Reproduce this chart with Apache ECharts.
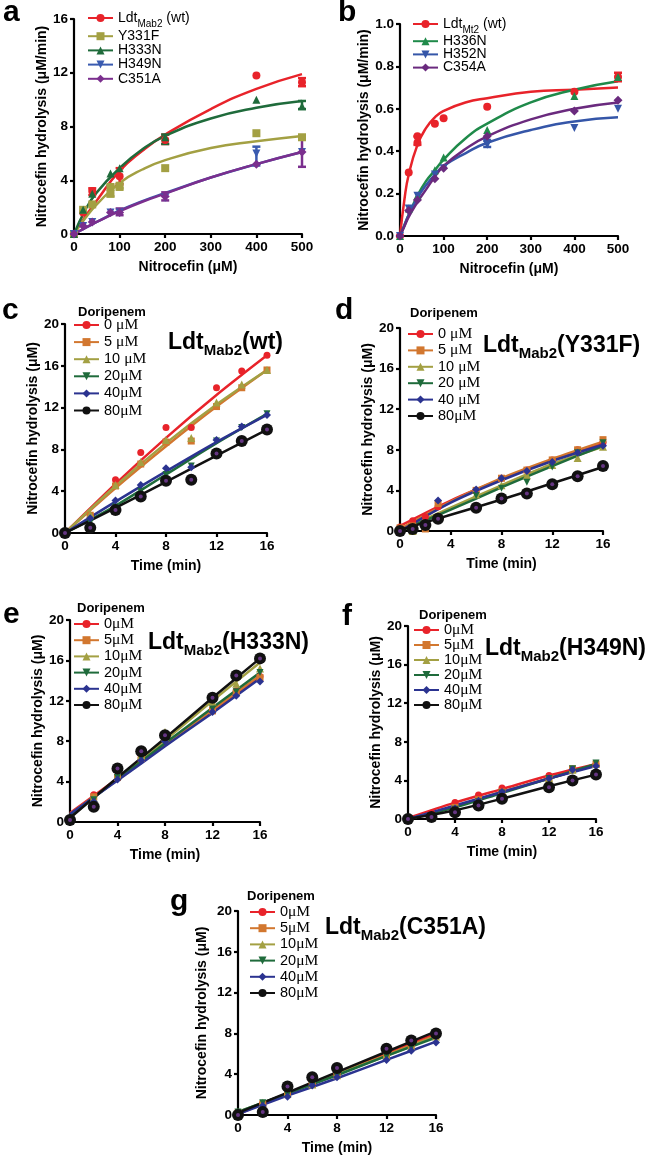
<!DOCTYPE html>
<html>
<head>
<meta charset="utf-8">
<script src="https://cdn.jsdelivr.net/npm/echarts@6/dist/echarts.min.js"></script>
<style>
  html,body{margin:0;padding:0;background:#fff;}
  #main{width:650px;height:1160px;}
</style>
</head>
<body>
<div id="main"></div>
<script>
// ---- panel a : Ldt_Mab2 and mutants, rate vs nitrocefin ----
var aFitX = [0, 25, 50, 100, 150, 200, 300, 400, 500];
var aWtPts = [[0,0],[20,1.6],[40,3.2],[100,4.3],[200,7.0],[400,11.8],[500,11.3]];
var aWtFit = [0, 1.3, 2.5, 4.7, 6.2, 7.4, 9.3, 10.8, 11.9];
var aY331FPts = [[0,0],[20,1.8],[40,2.2],[80,3.0],[80,3.5],[100,3.5],[200,4.9],[400,7.5],[500,7.2]];
var aY331FFit = [0, 1.2, 2.2, 3.8, 4.8, 5.5, 6.4, 6.9, 7.3];
var aH333NPts = [[0,0],[20,1.8],[40,3.0],[80,4.5],[100,4.9],[200,7.2],[400,10.0],[500,9.5]];
var aH333NFit = [0, 1.8, 3.1, 4.9, 6.3, 7.3, 8.6, 9.4, 9.9];
var aH349NPts = [[0,0],[20,0.6],[40,0.9],[80,1.6],[100,1.6],[200,2.7],[400,6.0],[500,6.1]];
var aH349NFit = [0, 0.45, 0.9, 1.75, 2.45, 3.05, 4.2, 5.2, 6.1];
var aC351APts = [[0,0],[20,0.6],[40,0.9],[80,1.6],[100,1.6],[200,2.8],[400,5.2],[500,6.1]];
var aC351AFit = [0, 0.45, 0.9, 1.7, 2.4, 3.0, 4.2, 5.2, 6.1];
// error bars [x, low, high]
var aWtErr = [[40,2.9,3.4],[100,3.7,4.9],[200,6.7,7.4],[500,11.0,11.6]];
var aY331FErr = [[80,2.8,3.6],[100,3.4,3.8]];
var aH333NErr = [[200,6.7,7.4],[500,9.3,9.9]];
var aH349NErr = [[400,5.1,6.5]];
var aC351AErr = [[100,1.4,1.9],[200,2.5,3.1],[500,5.0,7.2]];

// ---- panel b : Ldt_Mt2 and mutants ----
var bFitX = [0, 10, 20, 40, 60, 80, 100, 150, 200, 300, 400, 500];
var bWtPts = [[0,0],[20,0.30],[40,0.44],[40,0.47],[80,0.53],[100,0.555],[200,0.61],[400,0.68],[500,0.75]];
var bWtFit = [0, 0.17, 0.29, 0.43, 0.51, 0.56, 0.59, 0.63, 0.65, 0.68, 0.69, 0.70];
var bH336NPts = [[0,0],[20,0.13],[40,0.19],[80,0.31],[100,0.37],[200,0.50],[400,0.66],[500,0.75]];
var bH336NFit = [0, 0.05, 0.10, 0.19, 0.26, 0.31, 0.36, 0.46, 0.53, 0.63, 0.69, 0.73];
var bH352NPts = [[0,0],[20,0.13],[40,0.19],[80,0.29],[100,0.32],[200,0.43],[200,0.44],[400,0.51],[500,0.60]];
var bH352NFit = [0, 0.05, 0.10, 0.18, 0.24, 0.29, 0.33, 0.39, 0.44, 0.50, 0.54, 0.56];
var bC354APts = [[0,0],[20,0.12],[40,0.17],[80,0.27],[100,0.32],[200,0.47],[400,0.59],[500,0.64]];
var bC354AFit = [0, 0.045, 0.09, 0.16, 0.22, 0.28, 0.33, 0.41, 0.47, 0.55, 0.60, 0.63];
var bWtErr = [[40,0.43,0.47],[500,0.73,0.77]];
var bH352NErr = [[200,0.42,0.45]];

// ---- panels c-g : time courses with doripenem ----
var fitT = [0, 4, 8, 12, 16];

var cT = [0, 2, 4, 6, 8, 10, 12, 14, 16];
var c0 = [0, 1.7, 5.1, 7.7, 10.1, 10.1, 13.9, 15.5, 17.0];
var c5 = [0, 1.7, 4.5, 6.6, 8.7, 8.8, 12.1, 13.9, 15.6];
var c10 = [0, 1.8, 4.6, 6.8, 8.9, 9.1, 12.5, 14.2, 15.6];
var c20 = [0, 1.0, 2.5, 4.0, 5.6, 6.4, 8.8, 10.1, 11.4];
var c40 = [0, 1.4, 3.1, 4.6, 6.2, 6.3, 8.9, 10.2, 11.3];
var c80 = [0, 0.5, 2.2, 3.5, 5.0, 5.1, 7.6, 8.8, 9.9];
var c0Fit = [0, 4.7, 9.1, 13.2, 17.0];
var c5Fit = [0, 4.3, 8.3, 12.1, 15.6];
var c10Fit = [0, 4.5, 8.6, 12.3, 15.6];
var c20Fit = [0, 2.6, 5.6, 8.6, 11.4];
var c40Fit = [0, 3.0, 5.9, 8.7, 11.3];
var c80Fit = [0, 2.4, 4.9, 7.4, 9.9];

var dT = [0, 1, 2, 3, 6, 8, 10, 12, 14, 16];
var d0 = [0.4, 1.0, 1.4, 2.4, 4.0, 5.2, 6.0, 7.0, 8.0, 8.7];
var d5 = [0.3, 0.5, 0.2, 2.7, 4.0, 5.2, 6.0, 7.0, 8.0, 9.0];
var d10 = [0, 0, 0.5, 1.5, 3.6, 4.5, 5.5, 6.5, 7.2, 8.3];
var d20 = [0, 0, 0.7, 1.3, 3.5, 4.2, 4.8, 6.3, 7.7, 8.7];
var d40 = [0, -0.1, 0.6, 3.0, 4.1, 5.2, 5.9, 6.8, 7.7, 8.4];
var d80 = [0, 0.2, 0.6, 1.2, 2.3, 3.2, 3.7, 4.6, 5.4, 6.4];
var d0Fit = [0.5, 3.0, 5.1, 7.0, 8.7];
var d5Fit = [0.2, 2.9, 5.2, 7.1, 8.8];
var d10Fit = [0, 2.3, 4.5, 6.6, 8.3];
var d20Fit = [0, 2.1, 4.3, 6.4, 8.4];
var d40Fit = [0, 2.8, 5.0, 6.9, 8.5];
var d80Fit = [0.1, 1.6, 3.1, 4.7, 6.3];

var eT = [0, 2, 4, 6, 8, 12, 14, 16];
var e0 = [0.3, 2.7, 4.5, 6.4, 8.4, 11.2, 13.0, 14.4];
var e5 = [0.3, 2.5, 4.4, 6.3, 8.3, 11.0, 12.8, 14.3];
var e10 = [0.3, 2.4, 4.6, 6.6, 8.9, 11.9, 13.7, 15.2];
var e20 = [0.3, 2.2, 4.4, 6.3, 8.3, 11.2, 12.9, 14.8];
var e40 = [0.3, 2.0, 4.2, 6.1, 8.0, 10.9, 12.5, 13.9];
var e80 = [0.2, 1.5, 5.3, 7.0, 8.6, 12.3, 14.5, 16.2];
var e0Fit = [0.9, 4.3, 7.6, 11.0, 14.4];
var e5Fit = [0.8, 4.2, 7.6, 11.1, 14.5];
var e10Fit = [0.5, 4.3, 8.1, 12.0, 15.8];
var e20Fit = [0.7, 4.2, 7.8, 11.3, 14.8];
var e40Fit = [0.8, 4.1, 7.5, 10.8, 14.2];
var e80Fit = [0.4, 4.4, 8.3, 12.3, 16.2];

var fT = [0, 2, 4, 6, 8, 12, 14, 16];
var f0 = [0, 0.6, 1.7, 2.5, 3.2, 4.5, 5.1, 5.6];
var f5 = [0, 0.3, 1.2, 2.0, 2.8, 4.2, 5.2, 5.7];
var f10 = [0, 0.3, 1.1, 1.9, 2.7, 4.2, 5.1, 5.7];
var f20 = [0, 0.2, 1.0, 1.8, 2.7, 4.2, 5.2, 5.8];
var f40 = [0, 0.3, 1.1, 1.9, 2.8, 4.2, 5.1, 5.5];
var f80 = [0, 0.2, 0.7, 1.4, 2.1, 3.3, 4.0, 4.6];
var f0Fit = [0.1, 1.7, 3.1, 4.5, 5.7];
var f5Fit = [0, 1.3, 2.8, 4.2, 5.6];
var f10Fit = [0, 1.3, 2.8, 4.2, 5.6];
var f20Fit = [0, 1.2, 2.7, 4.2, 5.7];
var f40Fit = [0, 1.4, 2.8, 4.2, 5.5];
var f80Fit = [0, 0.9, 2.1, 3.4, 4.6];

var gT = [0, 2, 4, 6, 8, 12, 14, 16];
var g0 = [0.1, 1.1, 2.1, 3.1, 4.1, 6.0, 7.0, 8.0];
var g5 = [0.2, 1.1, 2.0, 3.0, 3.9, 5.9, 6.8, 7.8];
var g10 = [0.3, 1.2, 2.1, 3.0, 3.9, 5.8, 6.7, 7.7];
var g20 = [0.3, 1.2, 2.0, 2.9, 3.8, 5.7, 6.6, 7.6];
var g40 = [0.1, 0.9, 1.8, 2.9, 3.7, 5.4, 6.3, 7.1];
var g80 = [0, 0.3, 2.8, 3.7, 4.6, 6.5, 7.3, 8.0];
var g0Fit = [0.1, 2.1, 4.1, 6.0, 8.0];
var g5Fit = [0.2, 2.1, 4.0, 5.9, 7.8];
var g10Fit = [0.3, 2.1, 4.0, 5.8, 7.7];
var g20Fit = [0.3, 2.1, 3.9, 5.8, 7.6];
var g40Fit = [0.1, 1.9, 3.6, 5.4, 7.2];
var g80Fit = [0.2, 2.2, 4.2, 6.2, 8.2];

var doseLabels = ['0', '5', '10', '20', '40', '80'];

// ---- styles ----
var FONT = 'Liberation Sans';
var SERIF = 'Liberation Serif';
var RED = '#e8232a', OLIVE = '#a3a043', DKGREEN = '#1f6b3b', BLUE = '#3a5bb0', PURPLE = '#7b2f8e';
var GREEN_B = '#1f8a4a', BLUE_B = '#3556a8', PURPLE_B = '#6a2a7e';
var ORANGE = '#d2772f', NAVY = '#2b3390', BLACK = '#111111';
var INV_TRI = 'path://M0,0 L10,0 L5,9 Z';
var doseColors = [RED, ORANGE, OLIVE, DKGREEN, NAVY, BLACK];
var doseSymbols = ['circle', 'rect', 'triangle', INV_TRI, 'diamond', 'circle'];
var doseSizes = [7, 7, 8, 7, 8, 12];

// grid boxes [left, top, width, height]
var boxes = {
  a: [74, 19, 228, 215],
  b: [400, 24, 218, 212],
  c: [65, 324, 202, 209],
  d: [400, 328, 203, 203],
  e: [70, 620, 190, 202],
  f: [408, 626, 188, 193],
  g: [238, 911, 198, 204]
};
var order = ['a', 'b', 'c', 'd', 'e', 'f', 'g'];

function zip(xs, ys) {
  var out = [];
  for (var i = 0; i < xs.length; i++) out.push([xs[i], ys[i]]);
  return out;
}

function axisBase() {
  return {
    type: 'value',
    axisLine: {show: true, onZero: false, lineStyle: {color: '#000', width: 2.2}},
    axisTick: {show: true, length: 4, lineStyle: {color: '#000', width: 2.2}},
    splitLine: {show: false},
    axisLabel: {color: '#000', fontWeight: 'bold', fontSize: 13.5, fontFamily: FONT, margin: 6},
    nameTextStyle: {color: '#000', fontWeight: 'bold', fontSize: 14, fontFamily: FONT},
    nameLocation: 'middle'
  };
}

var grids = [], xAxes = [], yAxes = [], series = [], legends = [], titles = [];

order.forEach(function (k, i) {
  var b = boxes[k];
  grids.push({left: b[0], top: b[1], width: b[2], height: b[3]});
  var xa = axisBase(), ya = axisBase();
  xa.gridIndex = i; ya.gridIndex = i;
  if (k == 'a' || k == 'b') {
    xa.min = 0; xa.max = 500; xa.interval = 100; xa.name = 'Nitrocefin (μM)';
  } else {
    xa.min = 0; xa.max = 16; xa.interval = 4; xa.name = 'Time (min)';
  }
  xa.nameGap = 26;
  if (k == 'a') {
    ya.min = 0; ya.max = 16; ya.interval = 4; ya.name = 'Nitrocefin hydrolysis (μM/min)'; ya.nameGap = 21;
  } else if (k == 'b') {
    ya.min = 0; ya.max = 1; ya.interval = 0.2; ya.name = 'Nitrocefin hydrolysis (μM/min)'; ya.nameGap = 27;
    ya.axisLabel.formatter = function (v) { return v.toFixed(1); };
  } else {
    ya.min = 0; ya.max = 20; ya.interval = 4; ya.name = 'Nitrocefin hydrolysis (μM)';
    ya.nameGap = {c: 22, d: 25, e: 22, f: 24, g: 29}[k];
  }
  xAxes.push(xa); yAxes.push(ya);
});

function errRender(params, api) {
  var x = api.value(0);
  var p1 = api.coord([x, api.value(1)]);
  var p2 = api.coord([x, api.value(2)]);
  var st = {stroke: api.visual('color'), lineWidth: 2.5};
  return {
    type: 'group',
    children: [
      {type: 'line', shape: {x1: p1[0], y1: p1[1], x2: p2[0], y2: p2[1]}, style: st},
      {type: 'line', shape: {x1: p1[0] - 4, y1: p1[1], x2: p1[0] + 4, y2: p1[1]}, style: st},
      {type: 'line', shape: {x1: p2[0] - 4, y1: p2[1], x2: p2[0] + 4, y2: p2[1]}, style: st}
    ]
  };
}

// one dataset = fitted curve + points (+ error bars)
function addSet(gi, name, color, symbol, size, fit, pts, err, smooth) {
  series.push({
    type: 'line', name: name, xAxisIndex: gi, yAxisIndex: gi,
    data: fit, smooth: smooth, showSymbol: false, symbol: symbol, symbolSize: size,
    lineStyle: {color: color, width: 2.5}, itemStyle: {color: color},
    silent: true, z: 2, animation: false
  });
  if (err) {
    series.push({
      type: 'custom', name: name, xAxisIndex: gi, yAxisIndex: gi,
      data: err, renderItem: errRender, itemStyle: {color: color},
      encode: {x: 0, y: [1, 2]}, z: 3, animation: false, silent: true
    });
  }
  series.push({
    type: 'scatter', name: name, xAxisIndex: gi, yAxisIndex: gi,
    data: pts, symbol: symbol, symbolSize: size, itemStyle: {color: color, opacity: 1},
    z: 4, animation: false, silent: true
  });
}

// panel a
addSet(0, 'a:LdtMab2', RED, 'circle', 8, zip(aFitX, aWtFit), aWtPts, aWtErr, true);
addSet(0, 'a:Y331F', OLIVE, 'rect', 8, zip(aFitX, aY331FFit), aY331FPts, aY331FErr, true);
addSet(0, 'a:H333N', DKGREEN, 'triangle', 8, zip(aFitX, aH333NFit), aH333NPts, aH333NErr, true);
addSet(0, 'a:H349N', BLUE, INV_TRI, 8, zip(aFitX, aH349NFit), aH349NPts, aH349NErr, true);
addSet(0, 'a:C351A', PURPLE, 'diamond', 9, zip(aFitX, aC351AFit), aC351APts, aC351AErr, true);

// panel b
addSet(1, 'b:LdtMt2', RED, 'circle', 8, zip(bFitX, bWtFit), bWtPts, bWtErr, true);
addSet(1, 'b:H336N', GREEN_B, 'triangle', 8, zip(bFitX, bH336NFit), bH336NPts, null, true);
addSet(1, 'b:H352N', BLUE_B, INV_TRI, 8, zip(bFitX, bH352NFit), bH352NPts, bH352NErr, true);
addSet(1, 'b:C354A', PURPLE_B, 'diamond', 9, zip(bFitX, bC354AFit), bC354APts, null, true);

var timePanels = [
  {k: 'c', gi: 2, t: cT, pts: [c0, c5, c10, c20, c40, c80], fit: [c0Fit, c5Fit, c10Fit, c20Fit, c40Fit, c80Fit]},
  {k: 'd', gi: 3, t: dT, pts: [d0, d5, d10, d20, d40, d80], fit: [d0Fit, d5Fit, d10Fit, d20Fit, d40Fit, d80Fit]},
  {k: 'e', gi: 4, t: eT, pts: [e0, e5, e10, e20, e40, e80], fit: [e0Fit, e5Fit, e10Fit, e20Fit, e40Fit, e80Fit]},
  {k: 'f', gi: 5, t: fT, pts: [f0, f5, f10, f20, f40, f80], fit: [f0Fit, f5Fit, f10Fit, f20Fit, f40Fit, f80Fit]},
  {k: 'g', gi: 6, t: gT, pts: [g0, g5, g10, g20, g40, g80], fit: [g0Fit, g5Fit, g10Fit, g20Fit, g40Fit, g80Fit]}
];
// label spacing differs a bit between panels
var doseSpace = {
  c: [' ', ' ', ' ', '', '', ''],
  d: [' ', ' ', ' ', ' ', ' ', ''],
  e: ['', '', '', '', '', ''],
  f: ['', '', '', '', '', ''],
  g: ['', '', '', '', '', '']
};

timePanels.forEach(function (p) {
  for (var j = 0; j < 6; j++) {
    var nm = p.k + ':' + doseLabels[j] + doseSpace[p.k][j] + 'μM';
    addSet(p.gi, nm, doseColors[j], doseSymbols[j], doseSizes[j],
      zip(fitT, p.fit[j]), zip(p.t, p.pts[j]), null, 0.3);
    if (j == 5) {
      // purple centre dot of the black markers
      series.push({
        type: 'scatter', name: nm, xAxisIndex: p.gi, yAxisIndex: p.gi,
        data: zip(p.t, p.pts[j]), symbol: 'circle', symbolSize: 4,
        itemStyle: {color: '#7a3fa0'}, z: 5, animation: false, silent: true
      });
    }
  }
});

function legendLabel(name) {
  var t = name.split(':')[1];
  if (t == 'LdtMab2') return '{n|Ldt}{s|Mab2}{n| (wt)}';
  if (t == 'LdtMt2') return '{n|Ldt}{s|Mt2}{n| (wt)}';
  var m = t.match(/^(\d+\s?)(μM)$/);
  if (m) return '{d|' + m[1] + '}{u|μM}';
  return '{n|' + t + '}';
}

var legendRich = {
  n: {fontSize: 14, fontFamily: FONT, color: '#000', lineHeight: 14},
  s: {fontSize: 10, fontFamily: FONT, color: '#000', verticalAlign: 'bottom', lineHeight: 10, padding: [0, 0, -4, 0]},
  d: {fontSize: 14.5, fontFamily: FONT, color: '#000', lineHeight: 14},
  u: {fontSize: 15.5, fontFamily: SERIF, color: '#000', lineHeight: 14}
};

function addLegend(gi, names, left, top, gap) {
  legends.push({
    data: names, orient: 'vertical', left: left, top: top, padding: 0,
    itemWidth: 25, itemHeight: 10, itemGap: gap, selectedMode: false,
    formatter: legendLabel,
    textStyle: {fontSize: 14, fontFamily: FONT, color: '#000', lineHeight: 14, rich: legendRich, padding: [0, 0, 0, 0]}
  });
}

addLegend(0, ['a:LdtMab2', 'a:Y331F', 'a:H333N', 'a:H349N', 'a:C351A'], 87, 11, 0.2);
addLegend(1, ['b:LdtMt2', 'b:H336N', 'b:H352N', 'b:C354A'], 412, 17, -0.8);

var legendPos = {
  c: [73, 317, 1.1, 78, 306],
  d: [407, 326, 0.4, 410, 307],
  e: [73, 616, 0.2, 77, 602],
  f: [413, 622, -1, 419, 609],
  g: [249, 904, 0.2, 247, 890]
};
timePanels.forEach(function (p) {
  var lp = legendPos[p.k];
  var names = [];
  for (var j = 0; j < 6; j++) names.push(p.k + ':' + doseLabels[j] + doseSpace[p.k][j] + 'μM');
  addLegend(p.gi, names, lp[0], lp[1], lp[2]);
  titles.push({text: 'Doripenem', left: lp[3], top: lp[4], padding: 0,
    textStyle: {fontSize: 13, fontWeight: 'bold', fontFamily: FONT, color: '#000'}});
});

// panel letters
var letters = [['a', 3, -2], ['b', 338, -2], ['c', 2, 296], ['d', 335, 296], ['e', 3, 600], ['f', 342, 602], ['g', 170, 887]];
letters.forEach(function (l) {
  titles.push({text: l[0], left: l[1], top: l[2], padding: 0,
    textStyle: {fontSize: 30, fontWeight: 'bold', fontFamily: FONT, color: '#000'}});
});

// enzyme titles
var enzymeTitles = [['wt', 168, 328], ['Y331F', 483, 331], ['H333N', 148, 628], ['H349N', 485, 634], ['C351A', 325, 913]];
var titleRich = {
  m: {fontSize: 23, fontWeight: 'bold', fontFamily: FONT, color: '#000', lineHeight: 30},
  s: {fontSize: 15, fontWeight: 'bold', fontFamily: FONT, color: '#000', lineHeight: 15, verticalAlign: 'bottom'}
};
enzymeTitles.forEach(function (t) {
  titles.push({text: '{m|Ldt}{s|Mab2}{m|(' + t[0] + ')}', left: t[1], top: t[2], padding: 0,
    textStyle: {rich: titleRich}});
});

var myChart = echarts.init(document.getElementById('main'), null, {renderer: 'canvas'});
var option = {
  backgroundColor: '#fff',
  animation: false,
  title: titles,
  legend: legends,
  grid: grids,
  xAxis: xAxes,
  yAxis: yAxes,
  series: series
};
myChart.setOption(option);
</script>
</body>
</html>
